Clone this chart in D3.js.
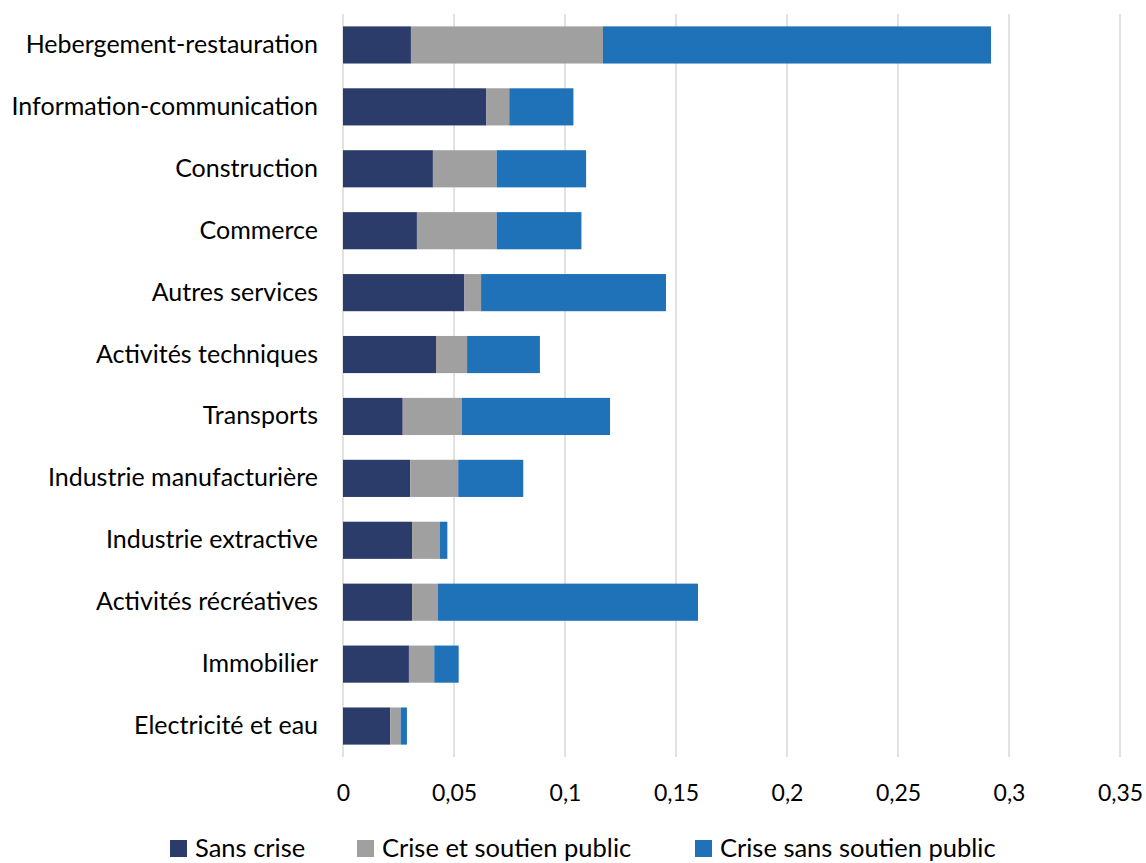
<!DOCTYPE html>
<html>
<head>
<meta charset="utf-8">
<script src="https://cdn.jsdelivr.net/npm/d3@7"></script>
<style>
  html, body { margin: 0; padding: 0; background: #ffffff; }
  svg { display: block; }
  text { font-family: Lato, "Open Sans", sans-serif; fill: #000; }
</style>
</head>
<body>
<svg id="chart" width="1146" height="863"></svg>
<script>
// Sectors, top to bottom
const categories = [
  "Hebergement-restauration",
  "Information-communication",
  "Construction",
  "Commerce",
  "Autres services",
  "Activités techniques",
  "Transports",
  "Industrie manufacturière",
  "Industrie extractive",
  "Activités récréatives",
  "Immobilier",
  "Electricité et eau"
];

// Stacked components per sector
const sansCrise        = [0.0306, 0.0646, 0.0405, 0.0333, 0.0547, 0.0419, 0.0269, 0.0303, 0.0311, 0.0311, 0.0297, 0.0213];
const criseSoutien     = [0.0865, 0.0103, 0.0287, 0.0359, 0.0075, 0.0140, 0.0267, 0.0216, 0.0126, 0.0117, 0.0114, 0.0047];
const criseSansSoutien = [0.1748, 0.0289, 0.0403, 0.0382, 0.0833, 0.0328, 0.0667, 0.0293, 0.0033, 0.1171, 0.0110, 0.0028];

const seriesNames  = ["Sans crise", "Crise et soutien public", "Crise sans soutien public"];
const seriesColors = ["#2b3c6b", "#a0a0a0", "#1f71b8"];
const tickValues   = [0, 0.05, 0.1, 0.15, 0.2, 0.25, 0.3, 0.35];

const rows = categories.map((c, i) => ({
  cat: c,
  s0: sansCrise[i],
  s1: criseSoutien[i],
  s2: criseSansSoutien[i]
}));

const svg = d3.select("#chart");
const margin = { left: 343, right: 26, top: 14, bottom: 106 };
const W = 1146, H = 863;

const x = d3.scaleLinear().domain([0, 0.35]).range([margin.left, W - margin.right]);
const y = d3.scaleBand().domain(categories).range([margin.top, H - margin.bottom]).paddingInner(0.4).paddingOuter(0.2);

// Vertical gridlines
svg.append("g")
  .selectAll("line")
  .data(tickValues)
  .join("line")
  .attr("x1", d => x(d)).attr("x2", d => x(d))
  .attr("y1", margin.top).attr("y2", H - margin.bottom)
  .attr("stroke", "#d9d9d9")
  .attr("stroke-width", 1.5);

// Stacked bars
const stack = d3.stack().keys(["s0", "s1", "s2"]);
const layers = stack(rows);

svg.append("g")
  .selectAll("g")
  .data(layers)
  .join("g")
  .attr("fill", (d, i) => seriesColors[i])
  .selectAll("rect")
  .data(d => d)
  .join("rect")
  .attr("x", d => x(d[0]))
  .attr("width", d => x(d[1]) - x(d[0]))
  .attr("y", d => y(d.data.cat))
  .attr("height", y.bandwidth());

// X axis tick labels
const xAxis = d3.axisBottom(x)
  .tickValues(tickValues)
  .tickSize(0)
  .tickPadding(0)
  .tickFormat(d => d3.format("")(d).replace(".", ","));

const gx = svg.append("g")
  .attr("transform", `translate(0,${H - margin.bottom})`)
  .call(xAxis);
gx.select(".domain").remove();
gx.selectAll("text")
  .attr("dy", null)
  .attr("y", 44)
  .style("font-size", "23px")
  .style("font-family", "Lato, sans-serif");

// Y axis category labels
const yAxis = d3.axisLeft(y).tickSize(0).tickPadding(25);
const gy = svg.append("g")
  .attr("transform", `translate(${margin.left},0)`)
  .call(yAxis);
gy.select(".domain").remove();
gy.selectAll("text")
  .style("font-size", "25px")
  .style("font-family", "Lato, sans-serif");

// Legend
const legendItems = [
  { name: seriesNames[0], color: seriesColors[0], x: 170 },
  { name: seriesNames[1], color: seriesColors[1], x: 357 },
  { name: seriesNames[2], color: seriesColors[2], x: 695 }
];
const lg = svg.append("g").selectAll("g")
  .data(legendItems)
  .join("g")
  .attr("transform", d => `translate(${d.x},840)`);
lg.append("rect")
  .attr("width", 17).attr("height", 17)
  .attr("fill", d => d.color);
lg.append("text")
  .attr("x", 25).attr("y", 16.5)
  .style("font-size", "25.5px")
  .text(d => d.name);
</script>
</body>
</html>
